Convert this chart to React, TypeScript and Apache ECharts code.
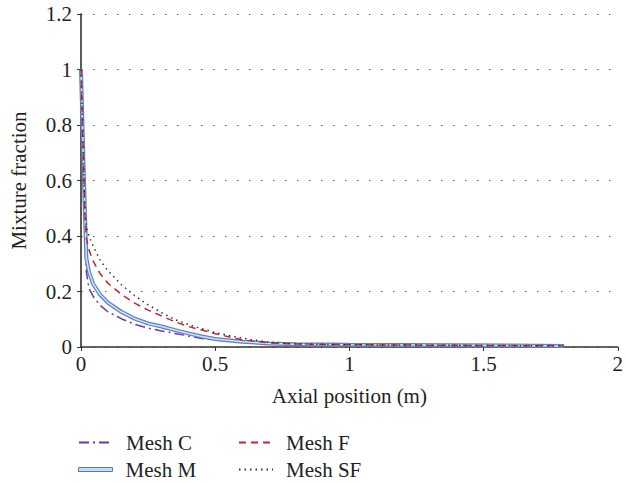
import React, { useEffect, useRef } from "react";
import * as echarts from "echarts";

const xPos = [0, 0.005, 0.01, 0.015, 0.02, 0.03, 0.045, 0.07, 0.1, 0.15, 0.2, 0.25, 0.3, 0.35, 0.4, 0.45, 0.5, 0.6, 0.7, 0.8, 1.0, 1.2, 1.4, 1.6, 1.8];
const meshC = [1, 0.82, 0.64, 0.45, 0.27, 0.21, 0.183, 0.151, 0.127, 0.102, 0.082, 0.068, 0.058, 0.049, 0.04, 0.031, 0.025, 0.017, 0.012, 0.01, 0.008, 0.007, 0.006, 0.005, 0.004];
const meshM = [1, 0.82, 0.64, 0.47, 0.32, 0.27, 0.228, 0.19, 0.16, 0.127, 0.102, 0.085, 0.074, 0.061, 0.049, 0.038, 0.029, 0.019, 0.013, 0.01, 0.008, 0.007, 0.006, 0.005, 0.004];
const meshF = [1, 0.82, 0.64, 0.47, 0.39, 0.35, 0.31, 0.266, 0.23, 0.19, 0.158, 0.133, 0.112, 0.091, 0.074, 0.061, 0.048, 0.026, 0.015, 0.011, 0.008, 0.007, 0.006, 0.005, 0.004];
const meshSF = [1, 0.82, 0.64, 0.48, 0.43, 0.4, 0.365, 0.315, 0.275, 0.225, 0.185, 0.152, 0.124, 0.099, 0.081, 0.066, 0.052, 0.032, 0.017, 0.011, 0.008, 0.007, 0.006, 0.005, 0.004];
const seriesNames = ["Mesh C", "Mesh F", "Mesh M", "Mesh SF"];
const xTicks = ["0", "0.5", "1", "1.5", "2"];

const pair = (ys: number[]) => ys.map((y, i) => [xPos[i], y]);

const FONT = "'Liberation Serif', 'DejaVu Serif', serif";
const TXT = "#231f20";
const FS = 21;
const HIDE = { color: "rgba(0,0,0,0)", borderColor: "rgba(0,0,0,0)", borderWidth: 0 };

export default function App() {
  const ref = useRef<HTMLDivElement>(null);
  useEffect(() => {
    if (!ref.current) return;
    const chart = echarts.init(ref.current, null, { renderer: "svg" });
    const legendBase = (name: string, left: number, top: number, extra: any = {}) => ({
      left,
      top,
      padding: 0,
      itemWidth: 34,
      itemHeight: 14,
      selectedMode: false,
      textStyle: { fontFamily: FONT, fontSize: FS, color: TXT, padding: [0, 0, 0, 8] },
      data: [{ name, itemStyle: HIDE, ...extra }],
    });
    chart.setOption({
      animation: false,
      grid: { left: 78, right: 5, top: 14, bottom: 136 },
      legend: [
        legendBase(seriesNames[0], 78, 432),
        legendBase(seriesNames[1], 238, 432),
        {
          ...legendBase(seriesNames[2], 78, 459),
          itemHeight: 4,
          data: [{ name: seriesNames[2], icon: "rect", itemStyle: { color: "#c9daf1", borderColor: "#4f79c4", borderWidth: 1 } }],
        },
        legendBase(seriesNames[3], 238, 459),
      ],
      xAxis: {
        type: "value",
        min: 0,
        max: 2,
        interval: 0.5,
        name: "Axial position (m)",
        nameLocation: "middle",
        nameGap: 38,
        nameTextStyle: { fontFamily: FONT, fontSize: FS, color: TXT },
        axisLine: { lineStyle: { color: "#333", width: 1.5 } },
        axisTick: { show: true, length: 4, lineStyle: { color: "#333" } },
        axisLabel: {
          fontFamily: FONT,
          fontSize: FS,
          color: TXT,
          margin: 6,
          formatter: (v: number) => xTicks[Math.round(v / 0.5)] ?? String(v),
        },
        splitLine: { show: false },
      },
      yAxis: {
        type: "value",
        min: 0,
        max: 1.2,
        interval: 0.2,
        name: "Mixture fraction",
        nameLocation: "middle",
        nameGap: 52,
        nameTextStyle: { fontFamily: FONT, fontSize: FS, color: TXT },
        axisLine: { show: true, lineStyle: { color: "#222", width: 1.5 } },
        axisTick: { show: true, length: 4, lineStyle: { color: "#333" } },
        axisLabel: {
          fontFamily: FONT,
          fontSize: FS,
          color: TXT,
          margin: 9,
          formatter: (v: number) => String(Math.round(v * 10) / 10),
        },
        splitLine: { show: true, lineStyle: { color: "#555", type: [1.5, 10.5], width: 1.2 } },
      },
      series: [
        {
          name: "Mesh C",
          type: "line",
          symbol: "none",
          data: pair(meshC),
          lineStyle: { color: "#6d35b0", width: 1.5, type: [10, 4, 2, 4] },
          itemStyle: { color: "#6d35b0" },
          z: 2,
        },
        {
          name: "Mesh M",
          type: "line",
          symbol: "none",
          data: pair(meshM),
          lineStyle: { color: "#5a82c8", width: 4 },
          itemStyle: { color: "#5a82c8" },
          z: 3,
        },
        {
          name: "Mesh M inner",
          type: "line",
          symbol: "none",
          data: pair(meshM),
          lineStyle: { color: "#d3e1f4", width: 1.5 },
          itemStyle: { color: "#d3e1f4" },
          z: 4,
        },
        {
          name: "Mesh F",
          type: "line",
          symbol: "none",
          data: pair(meshF),
          lineStyle: { color: "#c4262e", width: 1.5, type: [7, 5] },
          itemStyle: { color: "#c4262e" },
          z: 5,
        },
        {
          name: "Mesh SF",
          type: "line",
          symbol: "none",
          data: pair(meshSF),
          lineStyle: { color: "#333", width: 1.5, type: [1.5, 4] },
          itemStyle: { color: "#333" },
          z: 6,
        },
      ],
    });
    return () => chart.dispose();
  }, []);
  return <div ref={ref} style={{ width: 626, height: 483, position: "absolute", left: 0, top: 0 }} />;
}
